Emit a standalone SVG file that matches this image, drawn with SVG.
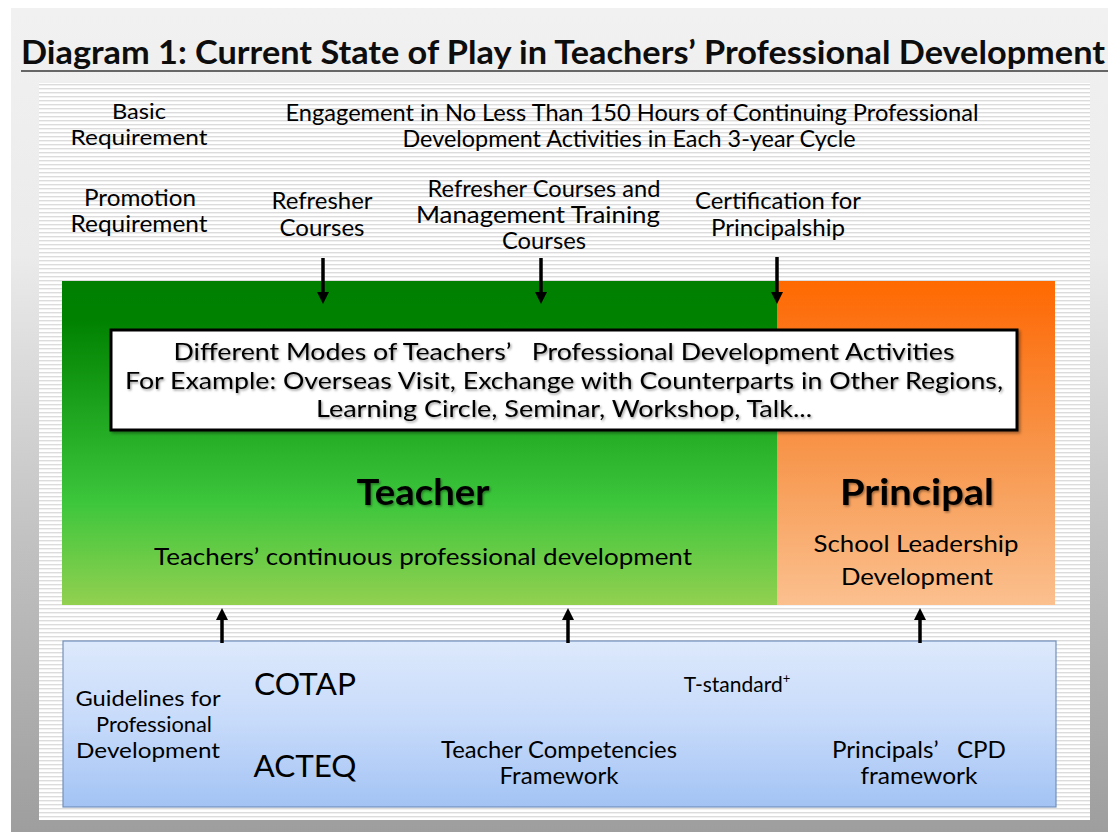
<svg xmlns="http://www.w3.org/2000/svg" width="1108" height="832" viewBox="0 0 1108 832">
<defs>
<style>
.t{font-family:Lato,"Open Sans","Liberation Sans",sans-serif;font-size:23px;fill:#000;text-anchor:middle}
.tt{font-size:21px}
.bx{font-size:24px}
.big{font-size:37px;font-weight:700}
.ab{font-size:31px}
.sm{font-size:21px}
.sh{filter:url(#tshadow)}
.arr{stroke:#000;stroke-width:3.5;fill:none;marker-end:url(#ah)}
</style>
<linearGradient id="bg" gradientUnits="userSpaceOnUse" x1="0" y1="8" x2="0" y2="832">
<stop offset="0" stop-color="#f1f1f1"/>
<stop offset="0.3" stop-color="#ebebeb"/>
<stop offset="0.66" stop-color="#c0c0c0"/>
<stop offset="1" stop-color="#9e9e9e"/>
</linearGradient>
<pattern id="stripes" patternUnits="userSpaceOnUse" width="8" height="4">
<rect width="8" height="4" fill="#ffffff"/>
<rect y="0" width="8" height="1.4" fill="#dcdcdc"/>
</pattern>
<linearGradient id="green" x1="0" y1="0" x2="0" y2="1">
<stop offset="0" stop-color="#007f00"/>
<stop offset="0.12" stop-color="#008200"/>
<stop offset="0.68" stop-color="#3cc63c"/>
<stop offset="1" stop-color="#92d050"/>
</linearGradient>
<linearGradient id="orange" x1="0" y1="0" x2="0" y2="1">
<stop offset="0" stop-color="#ff6a00"/>
<stop offset="0.1" stop-color="#fd7010"/>
<stop offset="0.55" stop-color="#f7984f"/>
<stop offset="1" stop-color="#fbc08f"/>
</linearGradient>
<linearGradient id="blue" x1="0" y1="0" x2="0" y2="1">
<stop offset="0" stop-color="#dde9fc"/>
<stop offset="0.5" stop-color="#c6dafa"/>
<stop offset="1" stop-color="#a3c3f4"/>
</linearGradient>
<filter id="tshadow" x="-5%" y="-20%" width="110%" height="150%">
<feDropShadow dx="1.2" dy="1.5" stdDeviation="0.9" flood-color="#000" flood-opacity="0.4"/>
</filter>
<filter id="bshadow" x="-2%" y="-5%" width="105%" height="115%">
<feDropShadow dx="2" dy="2" stdDeviation="1.5" flood-color="#000" flood-opacity="0.35"/>
</filter>
<marker id="ah" viewBox="0 0 12 12" refX="1" refY="6" markerWidth="12" markerHeight="12" markerUnits="userSpaceOnUse" orient="auto">
<path d="M0,0 L12,6 L0,12 z" fill="#000"/>
</marker>
</defs>

<g id="background">
<rect width="1108" height="832" fill="#ffffff"/>
<rect x="11" y="8" width="1097" height="824" fill="url(#bg)"/>
<rect x="39" y="83" width="1051" height="737" fill="url(#stripes)"/>
</g>

<g id="title">
<text x="21" y="64" font-family="Lato,'Open Sans','Liberation Sans',sans-serif" font-size="33" font-weight="700" fill="#0d0d0d" textLength="1084" lengthAdjust="spacingAndGlyphs">Diagram 1: Current State of Play in Teachers’ Professional Development</text>
<rect x="21" y="70" width="1087" height="2" fill="#666666"/>
</g>

<g id="requirements">
<text class="t tt" x="139" y="119" textLength="54" lengthAdjust="spacingAndGlyphs">Basic</text>
<text class="t tt" x="139" y="145" textLength="137" lengthAdjust="spacingAndGlyphs">Requirement</text>
<text class="t" x="632" y="121" textLength="693" lengthAdjust="spacingAndGlyphs">Engagement in No Less Than 150 Hours of Continuing Professional</text>
<text class="t" x="629" y="147" textLength="453" lengthAdjust="spacingAndGlyphs">Development Activities in Each 3-year Cycle</text>
<text class="t" x="140" y="206" textLength="112" lengthAdjust="spacingAndGlyphs">Promotion</text>
<text class="t" x="139" y="232" textLength="137" lengthAdjust="spacingAndGlyphs">Requirement</text>
</g>

<g id="refresher">
<text class="t" x="322" y="209" textLength="101" lengthAdjust="spacingAndGlyphs">Refresher</text>
<text class="t" x="322" y="236" textLength="85" lengthAdjust="spacingAndGlyphs">Courses</text>
</g>

<g id="refresher-management">
<text class="t" x="544" y="197" textLength="233" lengthAdjust="spacingAndGlyphs">Refresher Courses and</text>
<text class="t" x="538" y="223" textLength="244" lengthAdjust="spacingAndGlyphs">Management Training</text>
<text class="t" x="544" y="249" textLength="84" lengthAdjust="spacingAndGlyphs">Courses</text>
</g>

<g id="certification">
<text class="t" x="778" y="209" textLength="166" lengthAdjust="spacingAndGlyphs">Certification for</text>
<text class="t" x="778" y="236" textLength="134" lengthAdjust="spacingAndGlyphs">Principalship</text>
</g>

<g id="teacher">
<rect x="62" y="281" width="715" height="324" fill="url(#green)"/>
<text class="t big sh" x="423" y="505" textLength="133" lengthAdjust="spacingAndGlyphs">Teacher</text>
<text class="t" x="423" y="565" fill="#111" textLength="538" lengthAdjust="spacingAndGlyphs">Teachers’ continuous professional development</text>
</g>

<g id="principal">
<rect x="777" y="281" width="278" height="324" fill="url(#orange)"/>
<text class="t big sh" x="917" y="505" textLength="154" lengthAdjust="spacingAndGlyphs">Principal</text>
<text class="t" x="916" y="552" textLength="205" lengthAdjust="spacingAndGlyphs">School Leadership</text>
<text class="t" x="917" y="585" textLength="152" lengthAdjust="spacingAndGlyphs">Development</text>
</g>

<g id="modes">
<rect x="111" y="330" width="906" height="100" fill="#ffffff" stroke="#000" stroke-width="3" filter="url(#bshadow)"/>
<text class="t bx sh" x="564" y="360" xml:space="preserve" textLength="781" lengthAdjust="spacingAndGlyphs">Different Modes of Teachers’   Professional Development Activities</text>
<text class="t bx sh" x="564" y="389" textLength="878" lengthAdjust="spacingAndGlyphs">For Example: Overseas Visit, Exchange with Counterparts in Other Regions,</text>
<text class="t bx sh" x="564" y="417" textLength="496" lengthAdjust="spacingAndGlyphs">Learning Circle, Seminar, Workshop, Talk...</text>
</g>

<g id="frameworks">
<rect x="63" y="641" width="993" height="166" fill="url(#blue)" stroke="#7290bb" stroke-width="1.2"/>
<text class="t tt" x="148" y="706" textLength="145" lengthAdjust="spacingAndGlyphs">Guidelines for</text>
<text class="t tt" x="154" y="732" textLength="116" lengthAdjust="spacingAndGlyphs">Professional</text>
<text class="t tt" x="148" y="758" textLength="144" lengthAdjust="spacingAndGlyphs">Development</text>
<text class="t ab" x="305" y="695" textLength="102" lengthAdjust="spacingAndGlyphs">COTAP</text>
<text class="t ab" x="305" y="777" textLength="103" lengthAdjust="spacingAndGlyphs">ACTEQ</text>
<text class="t sm" x="737" y="692">T-standard<tspan font-size="13" dy="-9">+</tspan></text>
<text class="t" x="559" y="758" textLength="236" lengthAdjust="spacingAndGlyphs">Teacher Competencies</text>
<text class="t" x="559" y="784" textLength="119" lengthAdjust="spacingAndGlyphs">Framework</text>
<text class="t" x="919" y="758" xml:space="preserve" textLength="174" lengthAdjust="spacingAndGlyphs">Principals’   CPD</text>
<text class="t" x="919" y="784" textLength="117" lengthAdjust="spacingAndGlyphs">framework</text>
</g>

<g id="connectors">
<line class="arr" x1="323" y1="258" x2="323" y2="293"/>
<line class="arr" x1="541" y1="258" x2="541" y2="293"/>
<line class="arr" x1="777" y1="257" x2="777" y2="293"/>
<line class="arr" x1="222" y1="643" x2="222" y2="619"/>
<line class="arr" x1="568" y1="643" x2="568" y2="619"/>
<line class="arr" x1="920" y1="643" x2="920" y2="619"/>
</g>
</svg>
